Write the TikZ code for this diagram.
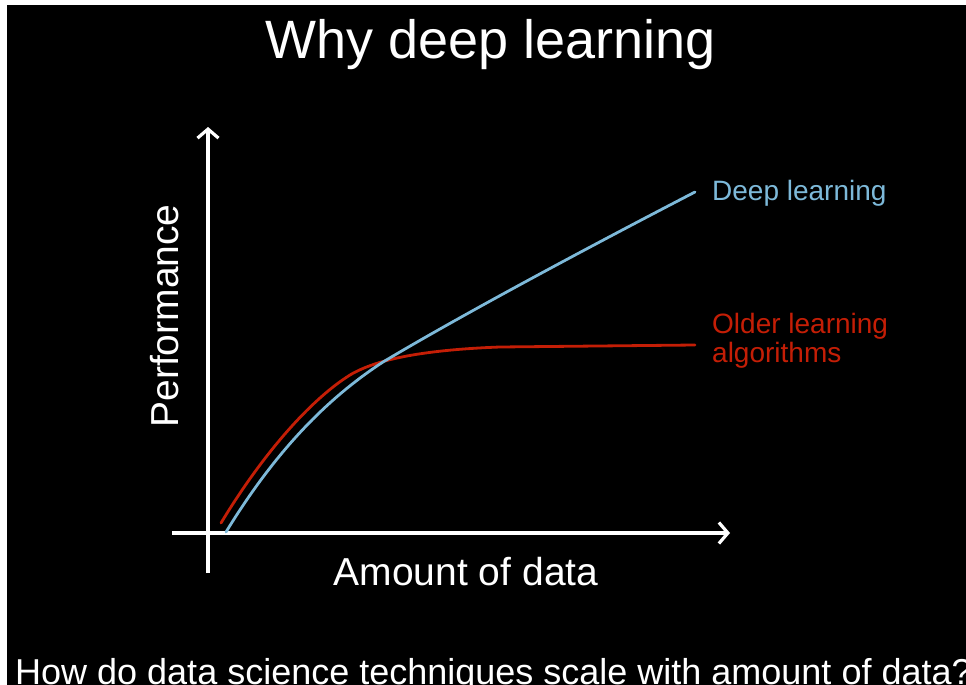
\documentclass[tikz,border=0pt]{standalone}
\usepackage{fontspec}
\setmainfont{Liberation Sans}
\usetikzlibrary{arrows.meta}
\definecolor{deepblue}{HTML}{7DB9D9}
\definecolor{oldred}{HTML}{C41E06}
\begin{document}
\begin{tikzpicture}[x=1pt,y=-1pt,
  axis/.style={draw=white,line width=3.2pt,-{Straight Barb[length=9pt,width=21pt,line width=3.2pt]}},
  curve/.style={line width=2.8pt,line cap=round},
  txt/.style={inner sep=0pt,text=white},
  fs/.style={font=\fontsize{#1}{#1}\selectfont}]
  \useasboundingbox (0,0) rectangle (966,685);
  % page frame and slide background
  \fill[white] (0,0) rectangle (966,685);
  \fill[black] (7,5) rectangle (966,685);

  % title
  \node[txt,fs=54,anchor=base] (title) at (491,59) {Why deep learning};

  % axes
  \coordinate (ybot) at (208,573);
  \coordinate (ytop) at (208,127);
  \coordinate (xleft) at (172,533);
  \coordinate (xright) at (730,533);
  \draw[axis] (ybot) -- (ytop);
  \draw[axis] (xleft) -- (xright);

  % axis labels
  \node[txt,fs=39,rotate=90,anchor=base] (ylabel) at (178,316) {Performance};
  \node[txt,fs=39,anchor=base] (xlabel) at (466,585) {Amount of data};

  % older learning algorithms: fast rise, then a plateau
  \draw[curve,oldred] (221,523) .. controls (262,455) and (310,400) .. (350,375)
    .. controls (375,360) and (420,350) .. (500,347) -- (695,345);
  % deep learning: keeps improving with more data
  \draw[curve,deepblue] (226,532) .. controls (270,460) and (320,403) .. (383,362)
    .. controls (450,322) and (560,262) .. (695,192);

  % curve labels
  \node[txt,fs=28,text=deepblue,anchor=base west] (dl) at (712,200) {Deep learning};
  \node[txt,fs=28,text=oldred,anchor=base west] (ol1) at (712,333) {Older learning};
  \node[txt,fs=28,text=oldred,anchor=base west] (ol2) at (712,362) {algorithms};

  % caption
  \node[txt,fs=36,anchor=base west] (caption) at (15,684)
    {How do data science techniques scale with amount of data?};
\end{tikzpicture}
\end{document}
